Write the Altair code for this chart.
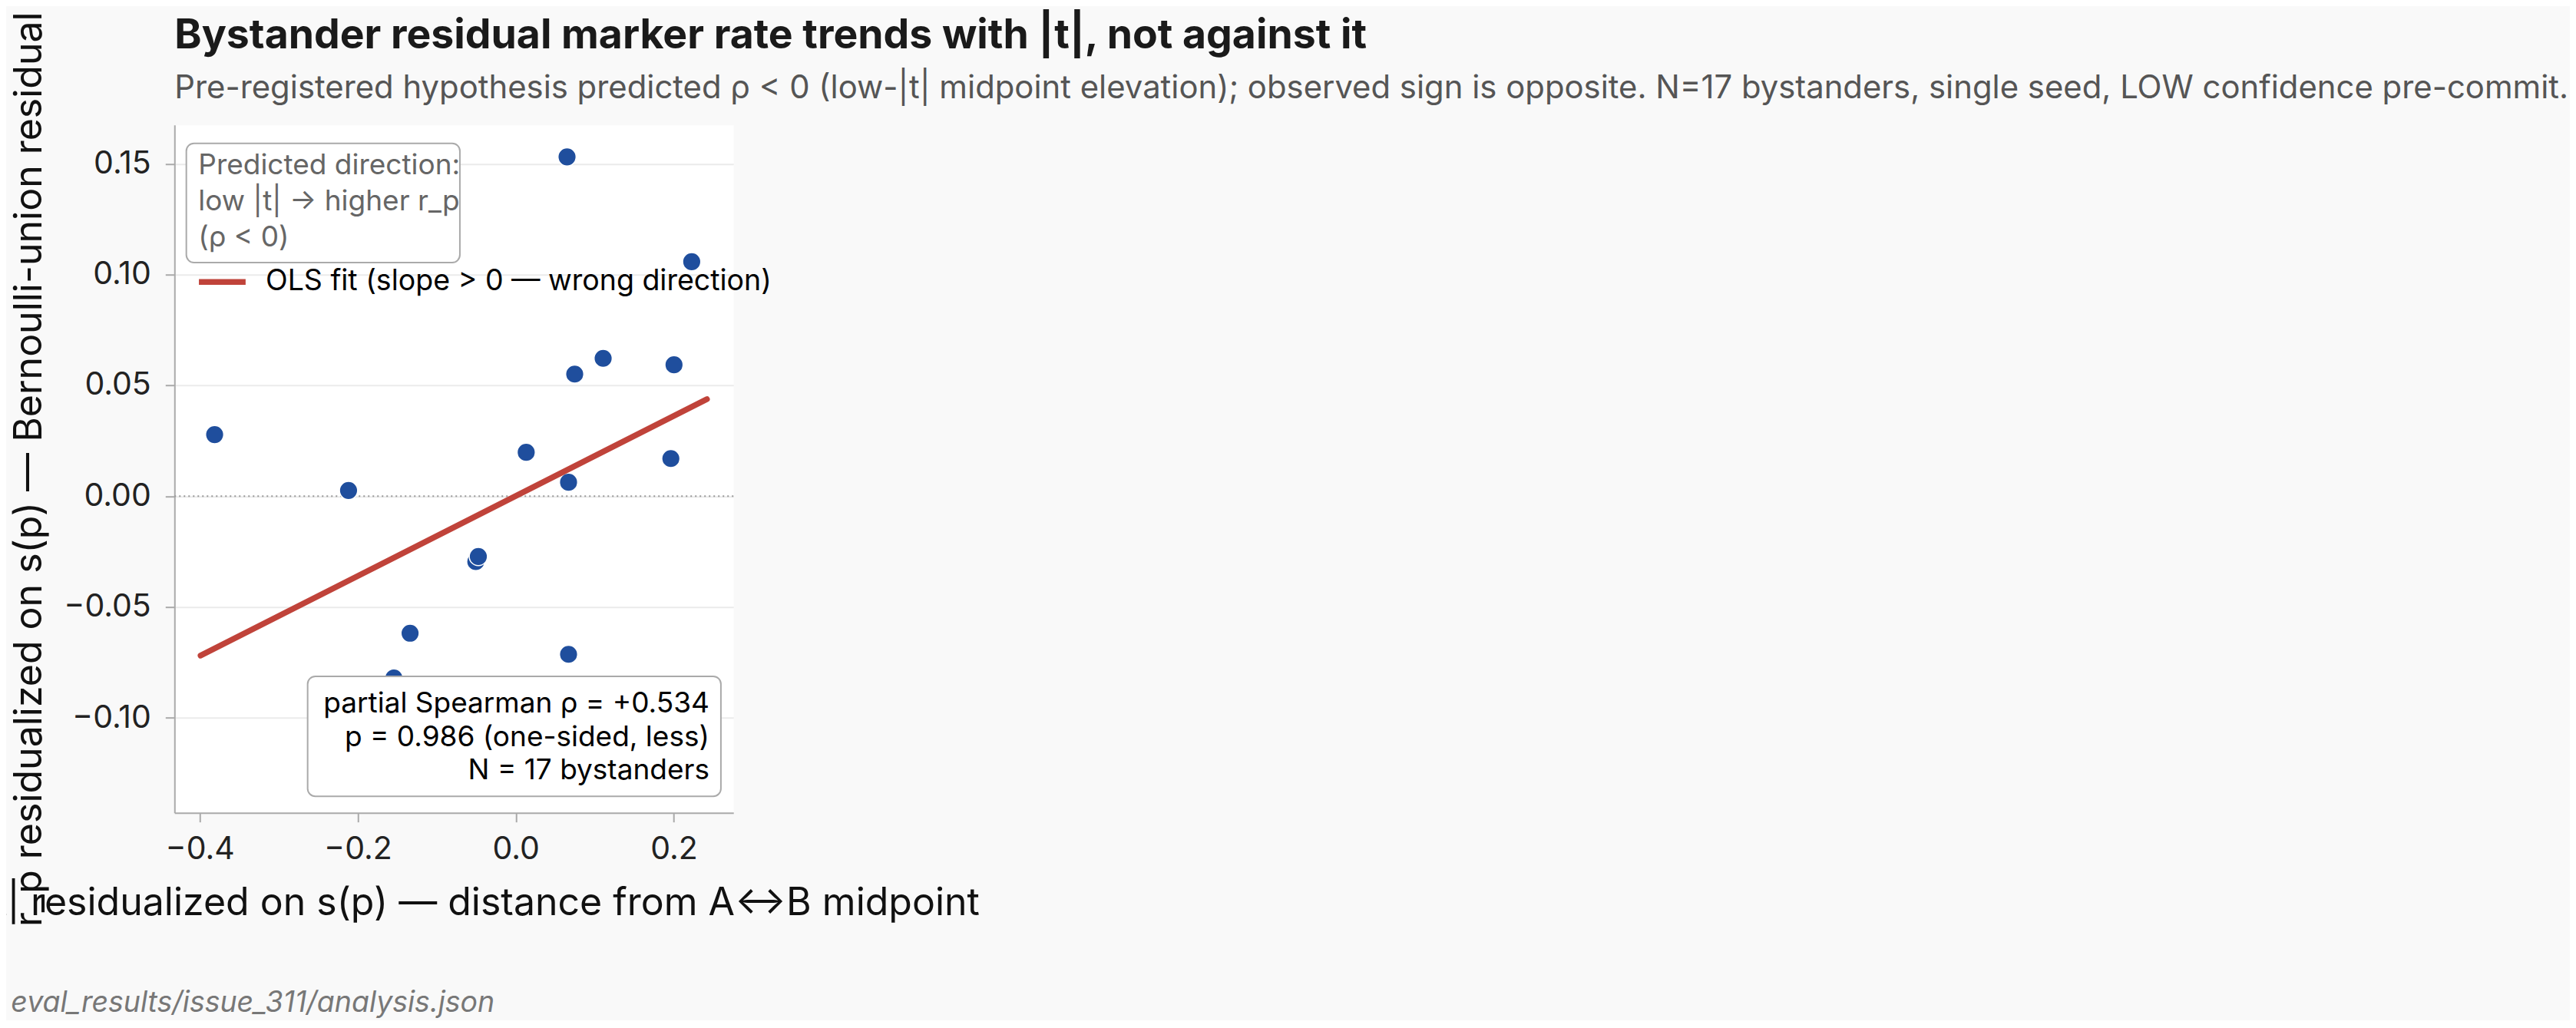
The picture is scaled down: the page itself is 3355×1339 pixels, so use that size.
import altair as alt
import pandas as pd

TITLE = "Bystander residual marker rate trends with |t|, not against it"
SUBTITLE = ("Pre-registered hypothesis predicted ρ < 0 (low-|t| midpoint elevation); observed sign is opposite. "
            "N=17 bystanders, single seed, LOW confidence pre-commit.")
X_TITLE = "|t| residualized on s(p) — distance from A↔B midpoint"
Y_TITLE = "r_p residualized on s(p) — Bernoulli-union residual"
FOOTNOTE = "eval_results/issue_311/analysis.json"

# residualized |t| (x) and residualized r_p (y) per bystander
x_resid = [0.0649, 0.2227, -0.3812, -0.2117, 0.0132, 0.0746, 0.1106, 0.2003, 0.1963,
           0.0668, -0.0506, -0.0474, -0.1338, 0.0668, -0.1543, -0.100, 0.063]
y_resid = [0.1531, 0.1058, 0.0278, 0.0026, 0.0198, 0.0551, 0.0622, 0.0593, 0.0170,
           0.0063, -0.0295, -0.0272, -0.0618, -0.0713, -0.0820, -0.129, -0.108]

# OLS fit line end points
fit_x = [-0.399, 0.242]
fit_y = [-0.0719, 0.0438]
OLS_LABEL = "OLS fit (slope > 0 — wrong direction)"

PRED_LINES = ["Predicted direction:", "low |t| → higher r_p", "(ρ < 0)"]
STATS_LINES = ["partial Spearman ρ = +0.534", "p = 0.986 (one-sided, less)", "N = 17 bystanders"]

X_TICKS = [-0.4, -0.2, 0.0, 0.2]
Y_TICKS = [-0.10, -0.05, 0.0, 0.05, 0.10, 0.15]
X_DOMAIN = [-0.432, 0.2755]
Y_DOMAIN = [-0.1428, 0.1675]
ZERO = [0.0]

BLUE = "#1f4e9d"
RED = "#c0433a"
FONT = "Inter"

W, H = 728, 896

pts = pd.DataFrame({"x": x_resid, "y": y_resid})
fit = pd.DataFrame({"x": fit_x, "y": fit_y, "series": [OLS_LABEL] * len(fit_x)})
zero = pd.DataFrame({"y": ZERO})
one = pd.DataFrame({"k": [0]})

xscale = alt.Scale(domain=X_DOMAIN, nice=False, zero=False)
yscale = alt.Scale(domain=Y_DOMAIN, nice=False, zero=False)

xaxis = alt.Axis(values=X_TICKS, format=".1f", title=X_TITLE, grid=False,
                 titleX=398, titleY=133, titleAlign="center", titleBaseline="alphabetic",
                 titleLimit=3000, labelFlush=False, labelPadding=16)
yaxis = alt.Axis(values=Y_TICKS, format=".2f", title=Y_TITLE, grid=True,
                 titleAngle=270, titleX=-174, titleY=H / 2, titleAlign="center",
                 titleBaseline="alphabetic", titleLimit=3000, labelPadding=19)

X = alt.X("x:Q", scale=xscale, axis=xaxis)
Y = alt.Y("y:Q", scale=yscale, axis=yaxis)

zero_rule = alt.Chart(zero).mark_rule(color="#999999", strokeWidth=2, strokeDash=[2, 4]).encode(
    y=alt.Y("y:Q", scale=yscale, axis=yaxis))

points = alt.Chart(pts).mark_circle(size=560, color=BLUE, opacity=1, stroke="white",
                                    strokeWidth=1.5).encode(x=X, y=Y)

line = alt.Chart(fit).mark_line(strokeWidth=7.5, strokeCap="round").encode(
    x=X, y=Y,
    color=alt.Color("series:N", scale=alt.Scale(domain=[OLS_LABEL], range=[RED]),
                    legend=alt.Legend(title=None, orient="none", legendX=27.7, legendY=170,
                                      symbolType="stroke", symbolStrokeWidth=7.5, symbolSize=3700,
                                      labelFont=FONT, labelFontSize=37.5, labelColor="#000000",
                                      labelOffset=22, labelLimit=2000, padding=0)))

pred_box = alt.Chart(one).mark_rect(fill="white", stroke="#aaaaaa", strokeWidth=2, cornerRadius=10).encode(
    x=alt.value(15.4), x2=alt.value(371.7), y=alt.value(24), y2=alt.value(179.3))
pred_text = alt.Chart(one).mark_text(align="left", baseline="alphabetic", font=FONT, fontSize=37,
                                     color="#666666", lineHeight=47).encode(
    x=alt.value(31), y=alt.value(64), text=alt.value(PRED_LINES))

stats_box = alt.Chart(one).mark_rect(fill="white", stroke="#aaaaaa", strokeWidth=2, cornerRadius=10).encode(
    x=alt.value(173.4), x2=alt.value(711.7), y=alt.value(718.3), y2=alt.value(874.6))
stats_text = alt.Chart(one).mark_text(align="right", baseline="alphabetic", font=FONT, fontSize=37,
                                      color="#000000", lineHeight=43.5).encode(
    x=alt.value(696.7), y=alt.value(765.6), text=alt.value(STATS_LINES))

foot = alt.Chart(one).mark_text(align="left", baseline="alphabetic", font=FONT, fontSize=37.5,
                                fontStyle="italic", color="#777777").encode(
    x=alt.value(-213), y=alt.value(1155.3), text=alt.value(FOOTNOTE))

chart = alt.layer(zero_rule, points, line, pred_box, pred_text, stats_box, stats_text, foot).properties(
    width=W, height=H,
    title=alt.TitleParams(text=TITLE, subtitle=SUBTITLE, anchor="start", frame="group", font=FONT,
                          fontSize=53.5, fontWeight="bold", color="#1a1a1a", subtitleFont=FONT,
                          subtitleFontSize=41.85, subtitleColor="#555555", subtitlePadding=20,
                          offset=0, dy=123, limit=3300),
    background="#f9f9f9",
    padding={"left": 219.3, "top": 154.7, "right": 2392, "bottom": 270},
    autosize=alt.AutoSizeParams(type="none"),
).configure_axis(
    labelFont=FONT, labelFontSize=41, labelColor="#222222",
    titleFont=FONT, titleFontSize=50, titleColor="#111111", titleFontWeight="normal",
    domainColor="#aaaaaa", domainWidth=2, tickColor="#aaaaaa", tickWidth=2, tickSize=12,
    gridColor="#ebebeb", gridWidth=2,
).configure_view(stroke="transparent", fill="white")

chart.save("out.html", embed_options={"renderer": "svg", "actions": False})
